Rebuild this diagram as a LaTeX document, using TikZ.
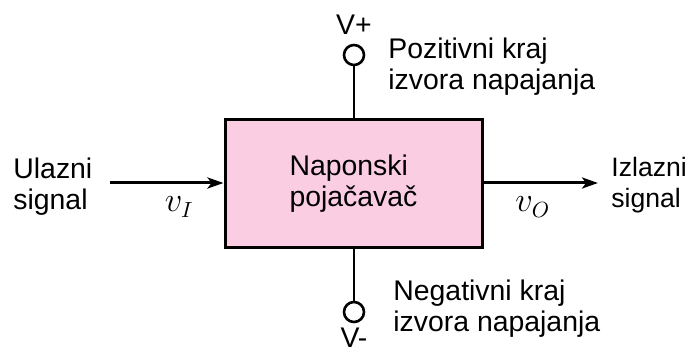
\documentclass[tikz,border=0pt]{standalone}
\usepackage{fontspec}
\setmainfont{Liberation Sans}
\usetikzlibrary{arrows.meta}
\definecolor{amppink}{RGB}{250,205,227}
\begin{document}
\begin{tikzpicture}[x=0.5pt,y=-0.5pt,
	every node/.style={font=\fontsize{14.2}{15.5}\selectfont,inner sep=0,align=left},
	sig/.style={line width=1.5pt,-{Stealth[length=8pt,width=5.5pt,inset=2pt]}},
	sym/.style={font=\fontsize{16}{18}\selectfont},
	term/.style={circle,draw,line width=1.3pt,minimum size=10pt,fill=white}]
\useasboundingbox (0,0) rectangle (688,357);
\node(amp)[draw,line width=1.5pt,fill=amppink,minimum width=128.5pt,minimum height=63.5pt] at (353.5,183.5) {Naponski\\pojačavač};
\node(vp)[term] at (354,55) {};
\node(vm)[term] at (354,312) {};
\draw[line width=0.8pt] (vp) -- (vp |- amp.north);
\draw[line width=0.8pt] (vm) -- (vm |- amp.south);
\coordinate (in) at (110,183);
\coordinate (out) at (598,183);
\draw[sig] (in) -- (amp.west |- in) node[sym,pos=.61,yshift=-12pt]{$v_I$};
\draw[sig] (amp.east |- out) -- (out) node[sym,pos=.43,yshift=-12pt]{$v_O$};
\node(ul)[anchor=north west] at (13,158) {Ulazni\\signal};
\node(iz)[anchor=north west,font=\fontsize{13.3}{15.5}\selectfont] at (611,157) {Izlazni\\signal};
\node(poz)[anchor=north west] at (388,38) {Pozitivni kraj\\izvora napajanja};
\node(neg)[anchor=north west] at (393,280) {Negativni kraj\\izvora napajanja};
\node(vplus)[anchor=north] at (354,15) {V+};
\node(vminus)[anchor=north] at (354,328) {V-};
\end{tikzpicture}
\end{document}
